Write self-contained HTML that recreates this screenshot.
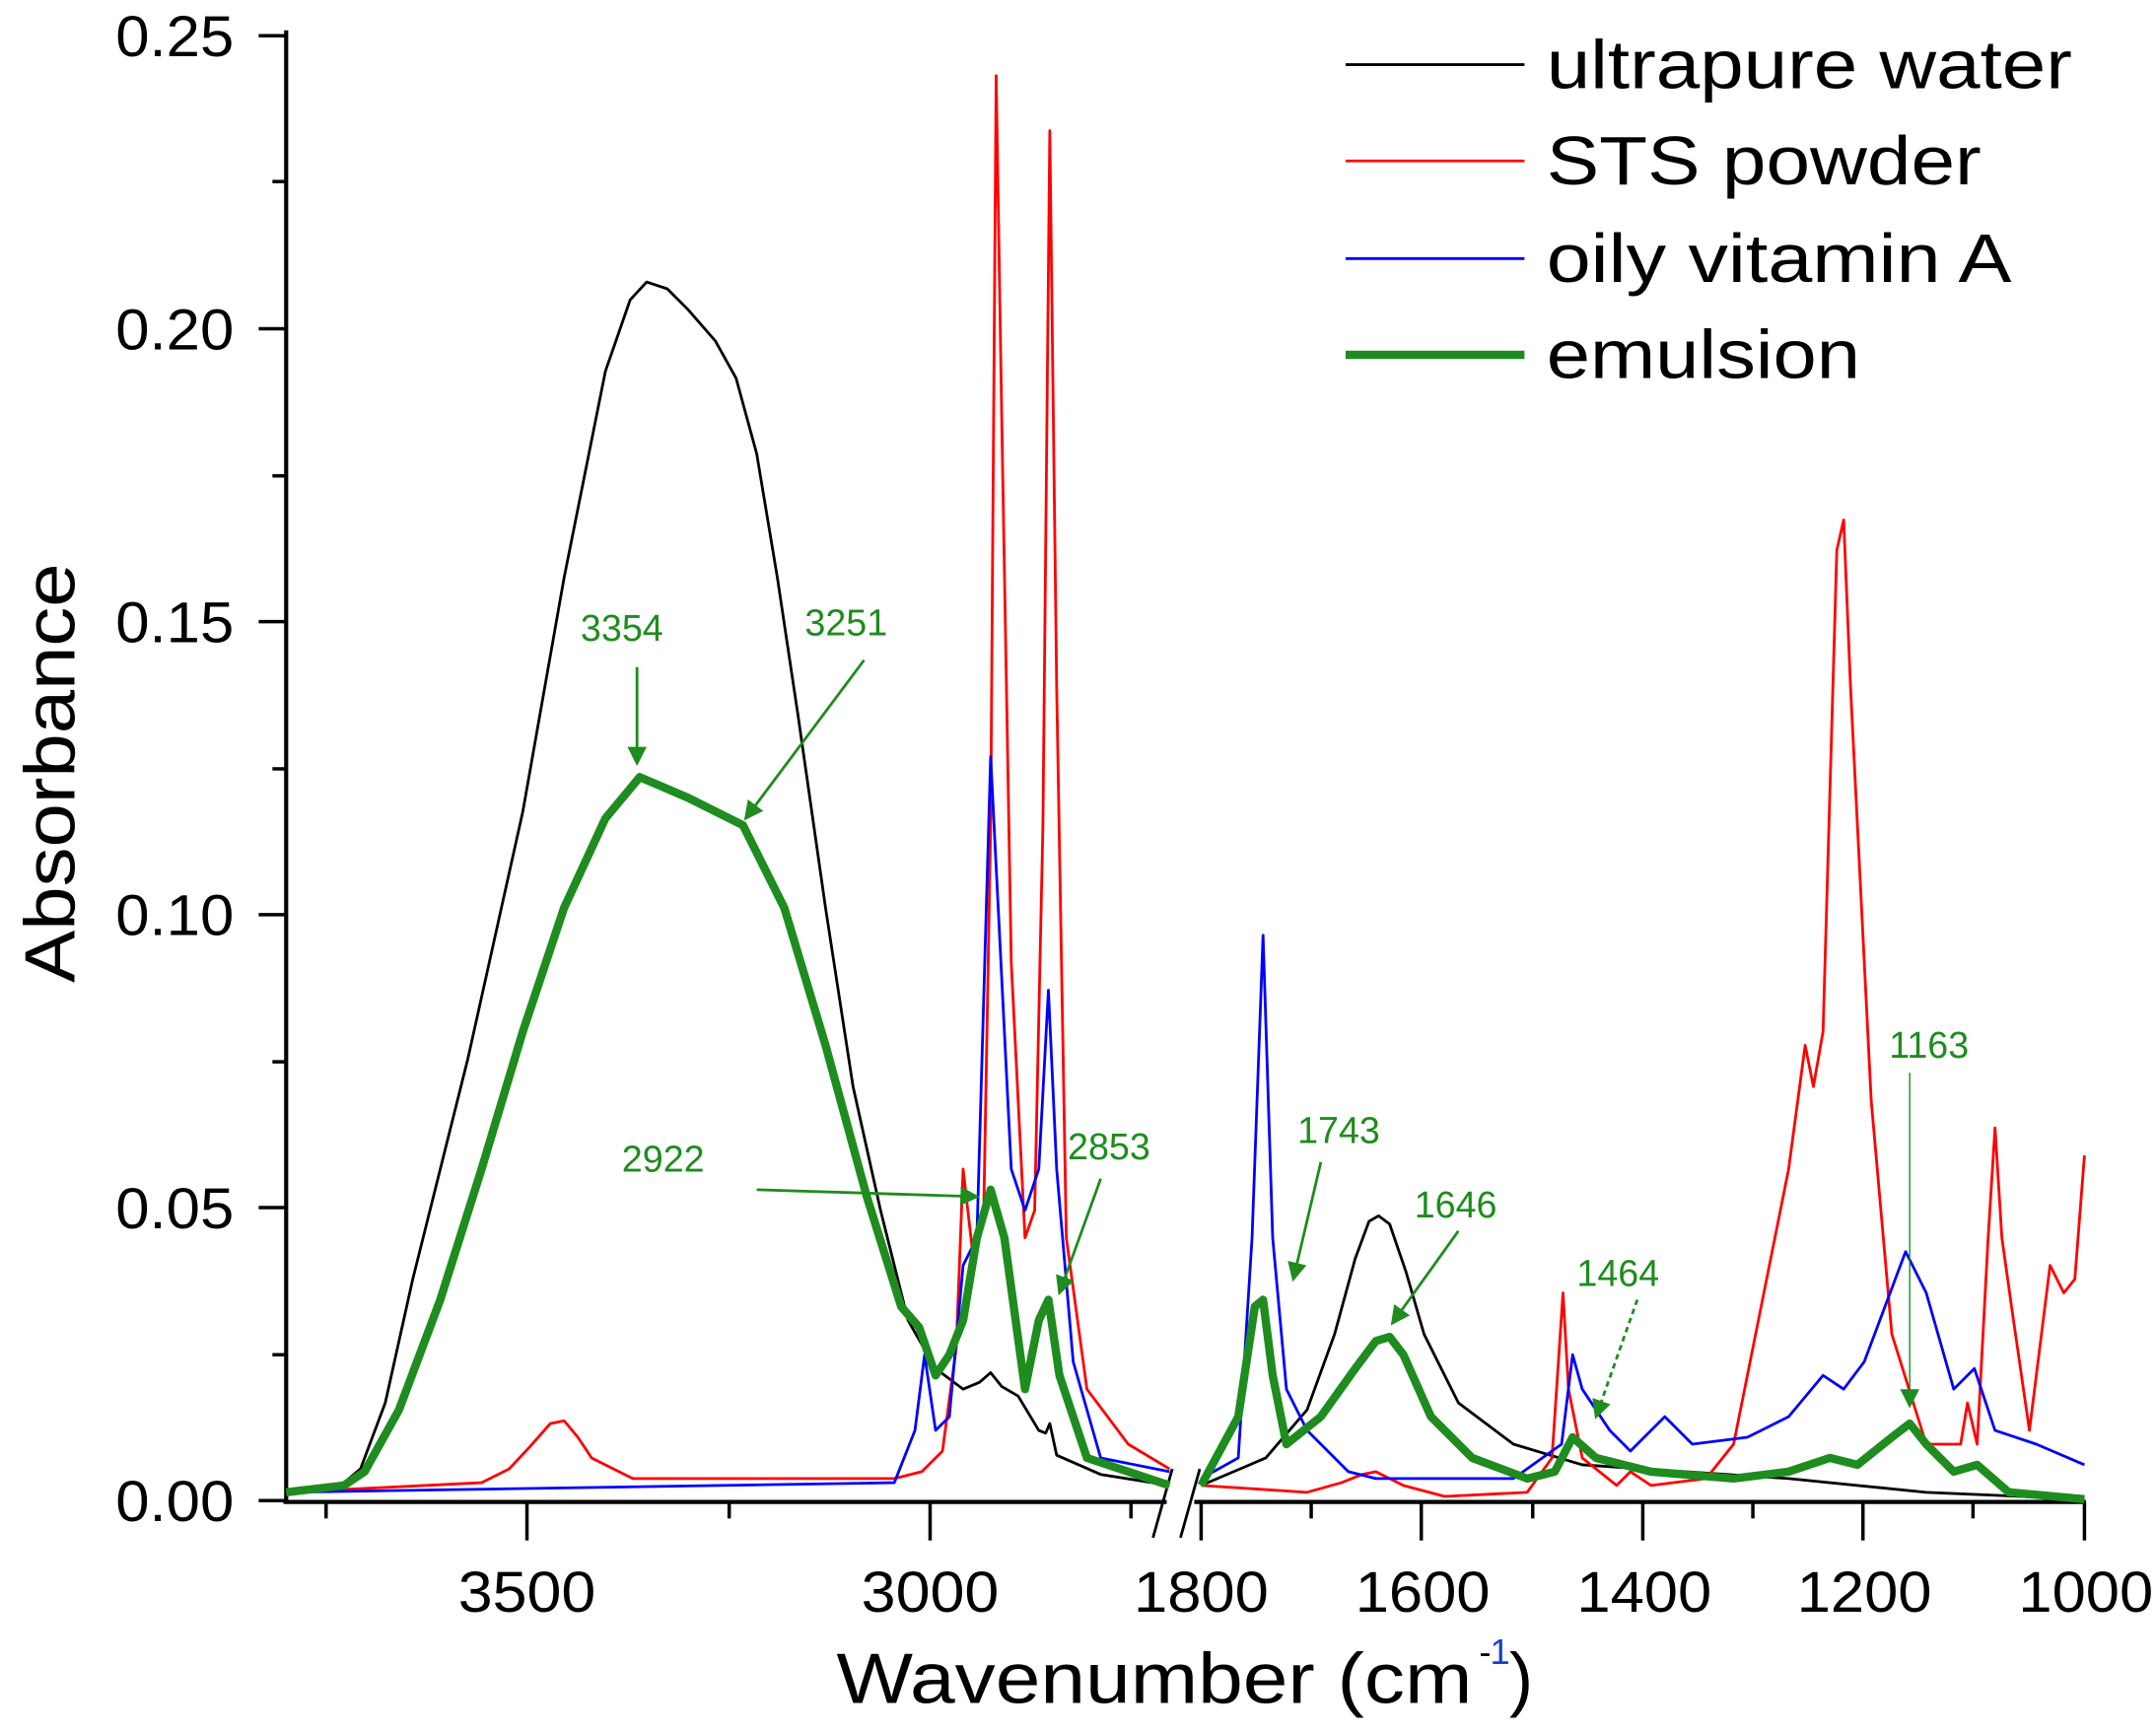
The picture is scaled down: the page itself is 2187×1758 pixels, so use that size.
<!DOCTYPE html>
<html><head><meta charset="utf-8"><style>
html,body{margin:0;padding:0;background:#fff}
svg{display:block}
text{font-family:"Liberation Sans",sans-serif}
</style></head><body>
<svg id="s" width="2187" height="1758" viewBox="0 0 1567 1260" preserveAspectRatio="none" xmlns="http://www.w3.org/2000/svg">
<defs>
<marker id="ah2" markerWidth="14" markerHeight="14" refX="12" refY="7" orient="auto" markerUnits="userSpaceOnUse"><path d="M0,0 L14,7 L0,14 z" fill="#1e8c1e"/></marker>
</defs>
<g stroke="#000" stroke-width="3" fill="none">
<line x1="208" y1="22" x2="208" y2="1093"/>
<line x1="206" y1="1092" x2="848" y2="1092"/>
<line x1="868" y1="1092" x2="1516" y2="1092"/>
<line x1="838" y1="1118" x2="852" y2="1068" stroke-width="2"/>
<line x1="858" y1="1118" x2="872" y2="1068" stroke-width="2"/>
</g>
<g stroke="#000" stroke-width="2.5">
<line x1="188" y1="1091" x2="208" y2="1091"/><line x1="198" y1="985" x2="208" y2="985"/>
<line x1="188" y1="878" x2="208" y2="878"/><line x1="198" y1="772" x2="208" y2="772"/>
<line x1="188" y1="665" x2="208" y2="665"/><line x1="198" y1="559" x2="208" y2="559"/>
<line x1="188" y1="452" x2="208" y2="452"/><line x1="198" y1="346" x2="208" y2="346"/>
<line x1="188" y1="239" x2="208" y2="239"/><line x1="198" y1="132" x2="208" y2="132"/>
<line x1="188" y1="26" x2="208" y2="26"/>
<line x1="237" y1="1092" x2="237" y2="1104"/><line x1="383" y1="1092" x2="383" y2="1120"/>
<line x1="530" y1="1092" x2="530" y2="1104"/><line x1="676" y1="1092" x2="676" y2="1120"/>
<line x1="822" y1="1092" x2="822" y2="1104"/>
<line x1="873" y1="1092" x2="873" y2="1120"/><line x1="953" y1="1092" x2="953" y2="1104"/>
<line x1="1033" y1="1092" x2="1033" y2="1120"/><line x1="1114" y1="1092" x2="1114" y2="1104"/>
<line x1="1194" y1="1092" x2="1194" y2="1120"/><line x1="1274" y1="1092" x2="1274" y2="1104"/>
<line x1="1354" y1="1092" x2="1354" y2="1120"/><line x1="1434" y1="1092" x2="1434" y2="1104"/>
<line x1="1515" y1="1092" x2="1515" y2="1120"/>
</g>
<g font-size="42" fill="#000">
<text x="84" y="1106" textLength="86" lengthAdjust="spacingAndGlyphs">0.00</text>
<text x="84" y="893" textLength="86" lengthAdjust="spacingAndGlyphs">0.05</text>
<text x="84" y="680" textLength="86" lengthAdjust="spacingAndGlyphs">0.10</text>
<text x="84" y="467" textLength="86" lengthAdjust="spacingAndGlyphs">0.15</text>
<text x="84" y="254" textLength="86" lengthAdjust="spacingAndGlyphs">0.20</text>
<text x="84" y="41" textLength="86" lengthAdjust="spacingAndGlyphs">0.25</text>
</g>
<g font-size="42" fill="#000">
<text x="333" y="1172" textLength="100" lengthAdjust="spacingAndGlyphs">3500</text>
<text x="626" y="1172" textLength="100" lengthAdjust="spacingAndGlyphs">3000</text>
<text x="824" y="1172" textLength="98" lengthAdjust="spacingAndGlyphs">1800</text>
<text x="985" y="1172" textLength="98" lengthAdjust="spacingAndGlyphs">1600</text>
<text x="1146" y="1172" textLength="98" lengthAdjust="spacingAndGlyphs">1400</text>
<text x="1306" y="1172" textLength="98" lengthAdjust="spacingAndGlyphs">1200</text>
<text x="1467" y="1172" textLength="98" lengthAdjust="spacingAndGlyphs">1000</text>
</g>
<text x="608" y="1238" font-size="52" textLength="462" lengthAdjust="spacingAndGlyphs">Wavenumber (cm</text>
<text x="1075" y="1210" font-size="26" fill="#000">-</text>
<text x="1083" y="1210" font-size="26" fill="#14c">1</text>
<text x="1097" y="1238" font-size="52">)</text>
<text transform="translate(54,562) rotate(-90)" font-size="52" text-anchor="middle" textLength="305" lengthAdjust="spacingAndGlyphs">Absorbance</text>
<g id="series" fill="none" stroke-linejoin="round">
<polyline stroke="#000" stroke-width="2" points="208,1085 250,1078 262,1068 280,1020 300,930 340,770 380,590 410,420 440,270 458,218 470,205 485,210 500,225 520,248 535,275 550,330 565,420 580,520 600,660 620,790 640,880 660,960 680,995 700,1010 712,1005 720,998 728,1008 740,1015 755,1040 760,1042 763,1035 768,1058 800,1072 850,1080"/>
<polyline stroke="#000" stroke-width="2" points="873,1080 920,1060 950,1025 970,970 985,915 995,888 1002,884 1010,890 1022,925 1035,970 1060,1020 1100,1050 1150,1065 1300,1075 1400,1085 1515,1090"/>
<polyline stroke="#f00" stroke-width="2" points="208,1085 350,1078 370,1068 385,1052 400,1035 410,1033 420,1045 430,1060 460,1075 650,1075 670,1070 685,1055 695,980 700,850 708,920 715,880 720,600 724,55 728,300 735,700 745,900 752,880 758,600 763,95 768,500 775,900 790,1010 820,1050 850,1068"/>
<polyline stroke="#f00" stroke-width="2" points="873,1080 950,1085 975,1078 990,1072 1000,1070 1020,1080 1050,1088 1110,1085 1128,1060 1136,940 1140,1010 1150,1060 1175,1080 1185,1070 1200,1080 1240,1075 1260,1050 1280,950 1300,850 1312,760 1318,790 1325,750 1335,400 1340,378 1345,500 1360,800 1375,970 1400,1050 1425,1050 1430,1020 1437,1050 1445,900 1450,820 1455,900 1462,950 1475,1040 1480,1000 1490,920 1500,940 1508,930 1515,840"/>
<polyline stroke="#00f" stroke-width="2" points="208,1085 650,1078 665,1040 672,985 680,1040 690,1030 700,920 710,900 720,550 725,650 735,850 745,880 755,850 762,720 768,850 780,990 800,1060 850,1070"/>
<polyline stroke="#00f" stroke-width="2" points="873,1075 900,1060 910,900 918,680 925,900 935,1010 950,1040 980,1070 1000,1075 1100,1075 1135,1050 1143,985 1150,1010 1170,1040 1185,1055 1210,1030 1230,1050 1270,1045 1300,1030 1325,1000 1340,1010 1355,990 1385,910 1400,940 1420,1010 1435,995 1450,1040 1480,1050 1515,1065"/>
<polyline stroke="#1e8c1e" stroke-width="6" points="208,1085 250,1080 265,1070 290,1025 320,945 350,850 380,750 410,660 440,595 465,565 500,580 540,600 570,660 600,760 630,870 655,950 668,965 680,1000 690,985 700,960 710,900 720,865 730,900 745,1010 755,960 762,945 770,1000 790,1060 850,1080"/>
<polyline stroke="#1e8c1e" stroke-width="6" points="873,1080 900,1030 912,950 918,945 925,1000 935,1050 960,1030 985,995 1000,975 1010,972 1020,985 1040,1030 1070,1060 1110,1075 1130,1070 1143,1045 1160,1060 1200,1070 1260,1075 1300,1070 1330,1060 1350,1065 1375,1045 1388,1035 1400,1050 1420,1070 1437,1065 1460,1085 1515,1090"/>
</g>
<g fill="#1e8c1e" font-size="27" text-anchor="middle">
<text x="452" y="466">3354</text><text x="615" y="462">3251</text><text x="482" y="852">2922</text>
<text x="806" y="843">2853</text><text x="973" y="831">1743</text><text x="1058" y="885">1646</text>
<text x="1176" y="935">1464</text><text x="1402" y="769">1163</text>
</g>
<g stroke="#1e8c1e" stroke-width="2" fill="none">
<line x1="463" y1="485" x2="463" y2="555" marker-end="url(#ah2)"/>
<line x1="628" y1="480" x2="542" y2="595" marker-end="url(#ah2)"/>
<line x1="550" y1="865" x2="710" y2="870" marker-end="url(#ah2)"/>
<line x1="800" y1="857" x2="770" y2="940" marker-end="url(#ah2)"/>
<line x1="960" y1="845" x2="940" y2="930" marker-end="url(#ah2)"/>
<line x1="1060" y1="895" x2="1012" y2="962" marker-end="url(#ah2)"/>
<line x1="1190" y1="945" x2="1160" y2="1030" stroke-dasharray="4,3" marker-end="url(#ah2)"/>
<line x1="1388" y1="780" x2="1388" y2="1022" stroke-width="1" marker-end="url(#ah2)"/>
</g>
<g fill="none">
<line x1="978" y1="47" x2="1108" y2="47" stroke="#000" stroke-width="2"/>
<line x1="978" y1="117" x2="1108" y2="117" stroke="#f00" stroke-width="2"/>
<line x1="978" y1="188" x2="1108" y2="188" stroke="#00f" stroke-width="2"/>
<line x1="978" y1="258" x2="1108" y2="258" stroke="#1e8c1e" stroke-width="6"/>
</g>
<g font-size="50" fill="#000">
<text x="1124" y="64" textLength="382" lengthAdjust="spacingAndGlyphs">ultrapure water</text>
<text x="1124" y="134" textLength="316" lengthAdjust="spacingAndGlyphs">STS powder</text>
<text x="1124" y="205" textLength="338" lengthAdjust="spacingAndGlyphs">oily vitamin A</text>
<text x="1124" y="275" textLength="228" lengthAdjust="spacingAndGlyphs">emulsion</text>
</g>
</svg>
</body></html>
